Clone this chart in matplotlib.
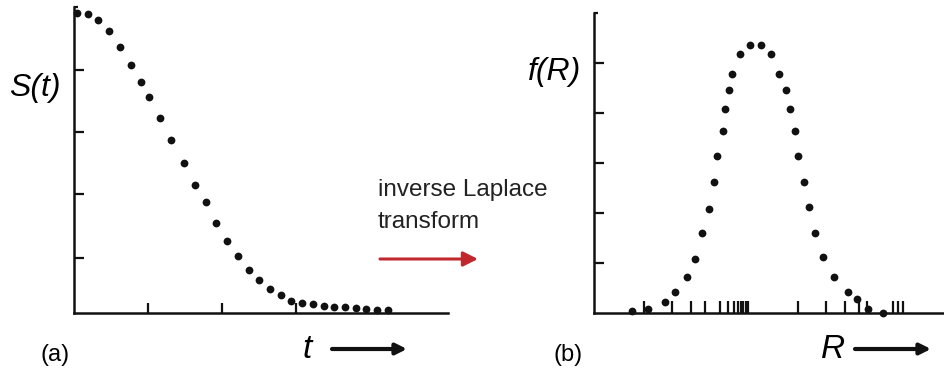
import matplotlib
matplotlib.use("Agg")
import matplotlib.pyplot as plt

# ---------------------------------------------------------------------------
# Data
# ---------------------------------------------------------------------------
# (a) signal decay S(t), normalised to S(0) ~ 1
t_vals = [0.045, 0.185, 0.328, 0.473, 0.622, 0.766, 0.909, 1.018, 1.166, 1.315,
          1.486, 1.635, 1.780, 1.923, 2.068, 2.212, 2.361, 2.504, 2.649, 2.793,
          2.937, 3.086, 3.230, 3.375, 3.518, 3.662, 3.807, 3.950, 4.095, 4.239]
s_vals = [0.981, 0.977, 0.958, 0.923, 0.870, 0.810, 0.756, 0.705, 0.636, 0.565,
          0.489, 0.418, 0.362, 0.295, 0.235, 0.186, 0.140, 0.107, 0.079, 0.059,
          0.040, 0.032, 0.028, 0.023, 0.021, 0.019, 0.015, 0.013, 0.011, 0.009]
t_ticks = [1, 2, 3]
s_ticks = [0.18, 0.39, 0.59, 0.795]

# (b) distance distribution f(R)
r_vals = [0.107, 0.155, 0.203, 0.232, 0.266, 0.288, 0.308, 0.327, 0.341, 0.350,
          0.368, 0.372, 0.385, 0.392, 0.417, 0.444, 0.475, 0.504, 0.526, 0.546,
          0.559, 0.572, 0.582, 0.597, 0.613, 0.630, 0.652, 0.683, 0.723, 0.750,
          0.781, 0.824]
f_vals = [0.006, 0.012, 0.036, 0.067, 0.119, 0.179, 0.264, 0.344, 0.435, 0.521,
          0.606, 0.677, 0.741, 0.796, 0.862, 0.892, 0.892, 0.862, 0.796, 0.741,
          0.677, 0.606, 0.521, 0.435, 0.351, 0.264, 0.186, 0.119, 0.068, 0.045,
          0.012, 0.0]
r_ticks = [0.143, 0.221, 0.276, 0.316, 0.359, 0.382, 0.400, 0.411, 0.419, 0.425,
           0.432, 0.440, 0.580, 0.661, 0.715, 0.756, 0.777, 0.853, 0.867, 0.879]
f_ticks = [1 / 6, 2 / 6, 3 / 6, 4 / 6, 5 / 6]

FONT = "Liberation Sans"
DOT = "#111111"
SPINE_LW = 1.8

plt.rcParams["font.family"] = FONT

fig = plt.figure(figsize=(9.45, 3.78), dpi=100)
W, H = 945.0, 378.0


def fig_xy(px, py):
    """Pixel position (from top-left) -> figure fraction."""
    return px / W, 1 - py / H


def style_axes(ax, xticks, yticks):
    for side in ("top", "right"):
        ax.spines[side].set_visible(False)
    for side in ("left", "bottom"):
        ax.spines[side].set_linewidth(SPINE_LW)
        ax.spines[side].set_color("#111111")
    ax.set_xticks(xticks)
    ax.set_yticks(yticks)
    ax.tick_params(axis="both", direction="in", width=1.6, length=7,
                   color="#111111", labelbottom=False, labelleft=False)
    # small stub at the top end of the y axis
    ax.plot([0, 0.012], [1, 1], transform=ax.transAxes, color="#111111",
            lw=1.6, clip_on=False, solid_capstyle="butt")


# Panel (a)
ax1 = fig.add_axes([74 / W, 1 - 313 / H, 374 / W, 306 / H])
ax1.plot(t_vals, s_vals, "o", color=DOT, ms=5.6, mew=0, clip_on=False)
ax1.set_xlim(0, 374 / 74)
ax1.set_ylim(0, 1)
style_axes(ax1, t_ticks, s_ticks)

# Panel (b)
ax2 = fig.add_axes([594 / W, 1 - 312.5 / H, 351 / W, 300 / H])
ax2.plot(r_vals, f_vals, "o", color=DOT, ms=5.6, mew=0, clip_on=False, zorder=3)
ax2.set_xlim(0, 1)
ax2.set_ylim(0, 1)
style_axes(ax2, r_ticks, f_ticks)
ax2.tick_params(axis="x", length=9)

# Axis names
fig.text(*fig_xy(35, 88), "S(t)", fontsize=23, style="italic",
         ha="center", va="center")
fig.text(*fig_xy(555, 72), "f(R)", fontsize=23, style="italic",
         ha="center", va="center")
fig.text(*fig_xy(307, 350), "t", fontsize=24, style="italic",
         ha="center", va="center")
fig.text(*fig_xy(833, 350), "R", fontsize=24, style="italic",
         ha="center", va="center")

# Panel letters
fig.text(*fig_xy(55, 355), "(a)", fontsize=17, ha="center", va="center")
fig.text(*fig_xy(568, 355), "(b)", fontsize=17, ha="center", va="center")

# Caption for the transform
fig.text(*fig_xy(378, 190), "inverse Laplace", fontsize=17.5,
         ha="left", va="center", color="#222222")
fig.text(*fig_xy(378, 222), "transform", fontsize=17.5,
         ha="left", va="center", color="#222222")


def arrow(x0, x1, y, color, lw, scale):
    fig.patches.append(matplotlib.patches.FancyArrowPatch(
        fig_xy(x0, y), fig_xy(x1, y), transform=fig.transFigure,
        arrowstyle="-|>", color=color, lw=lw, mutation_scale=scale,
        shrinkA=0, shrinkB=0))


arrow(380, 478, 259, "#c0282d", 2.2, 22)
arrow(332, 407, 349, "#111111", 3.0, 16)
arrow(855, 931, 349, "#111111", 3.0, 16)

fig.savefig("out.png", dpi=100)
